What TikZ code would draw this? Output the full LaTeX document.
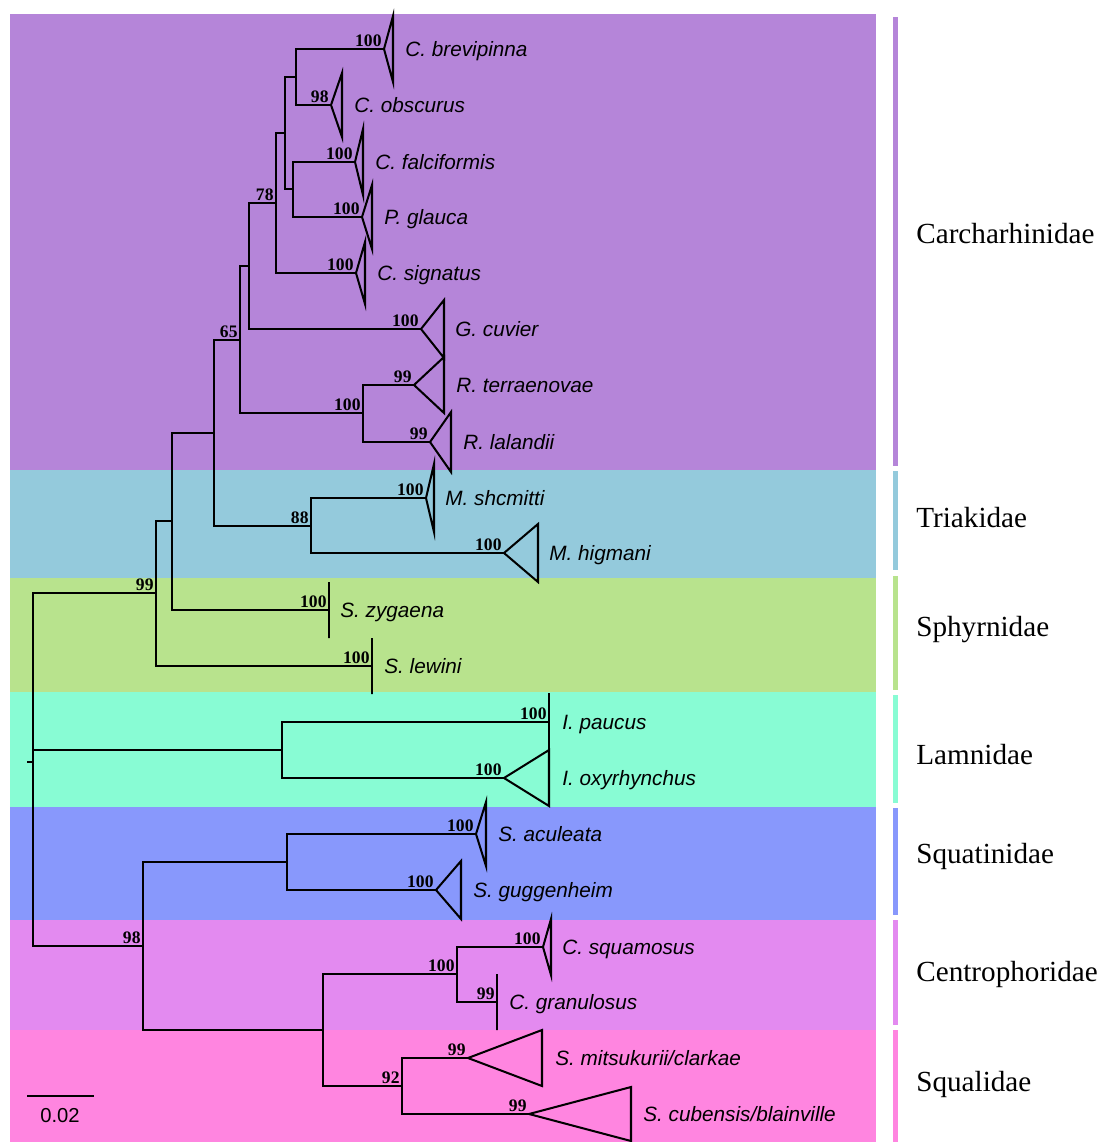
\documentclass[tikz,border=0pt]{standalone}
\usepackage{fontspec}
\setmainfont{Liberation Serif}
\setsansfont{Liberation Sans}
\usetikzlibrary{positioning}

\definecolor{carchcol}{RGB}{181,133,217}
\definecolor{triakcol}{RGB}{148,202,220}
\definecolor{sphyrcol}{RGB}{184,227,141}
\definecolor{lamncol}{RGB}{136,252,212}
\definecolor{squatcol}{RGB}{136,152,252}
\definecolor{centrocol}{RGB}{227,138,240}
\definecolor{squalcol}{RGB}{255,133,224}

\tikzset{
  branch/.style={line width=1.15pt},
  clade/.style={line width=1.15pt, line join=miter},
  taxon/.style={font=\sffamily\itshape\fontsize{11.8}{12}\selectfont, anchor=base west, yshift=-4.2pt, inner sep=0pt},
  boot/.style={font=\bfseries\fontsize{10}{10}\selectfont, anchor=south east, inner sep=1.2pt},
  family/.style={font=\fontsize{16.6}{18}\selectfont, anchor=base west, yshift=-5.5pt, inner sep=0pt},
}

\begin{document}
\begin{tikzpicture}[x=0.02cm, y=-0.02cm]
  \useasboundingbox (0,0) rectangle (1100,1142);

  % family bands
  \fill[carchcol]  (10,14)   rectangle (876,470);
  \fill[triakcol]  (10,470)  rectangle (876,578);
  \fill[sphyrcol]  (10,578)  rectangle (876,692);
  \fill[lamncol]   (10,692)  rectangle (876,807);
  \fill[squatcol]  (10,807)  rectangle (876,920);
  \fill[centrocol] (10,920)  rectangle (876,1030);
  \fill[squalcol]  (10,1030) rectangle (876,1142);

  % family bars and names
  \fill[carchcol]  (893,17)   rectangle (898,466);
  \fill[triakcol]  (893,471)  rectangle (898,570);
  \fill[sphyrcol]  (893,576)  rectangle (898,690);
  \fill[lamncol]   (893,695)  rectangle (898,803);
  \fill[squatcol]  (893,808)  rectangle (898,915);
  \fill[centrocol] (893,920)  rectangle (898,1025);
  \fill[squalcol]  (893,1030) rectangle (898,1142);
  \node[family] (carch)  at (916,234)  {Carcharhinidae};
  \node[family] (triak)  at (916,518)  {Triakidae};
  \node[family] (sphyr)  at (916,627)  {Sphyrnidae};
  \node[family] (lamn)   at (916,755)  {Lamnidae};
  \node[family] (squat)  at (916,854)  {Squatinidae};
  \node[family] (centro) at (916,972)  {Centrophoridae};
  \node[family] (squal)  at (916,1082) {Squalidae};

  % internal nodes
  \coordinate (stem)    at (27,762);
  \coordinate (root)    at (33,762);
  \coordinate (n99)     at (156,593);
  \coordinate (n172)    at (172,521);
  \coordinate (n214)    at (214,433);
  \coordinate (n65)     at (240,340);
  \coordinate (n249)    at (249,266);
  \coordinate (n78)     at (276,203);
  \coordinate (n285)    at (285,133);
  \coordinate (n296)    at (296,77);
  \coordinate (n293)    at (293,189);
  \coordinate (nRhizo)  at (363,413);
  \coordinate (n88)     at (311,526);
  \coordinate (nLamn)   at (282,750);
  \coordinate (n98)     at (143,946);
  \coordinate (nSquat)  at (287,862);
  \coordinate (nCS)     at (323,1030);
  \coordinate (nCentro) at (457,974);
  \coordinate (n92)     at (402,1086);

  % tips (apex of collapsed clades)
  \coordinate (brev) at (384,49);
  \coordinate (obsc) at (331,105);
  \coordinate (falc) at (355,162);
  \coordinate (glau) at (362,217);
  \coordinate (sign) at (356,273);
  \coordinate (cuvi) at (421,329);
  \coordinate (terr) at (414,385);
  \coordinate (lala) at (430,442);
  \coordinate (shcm) at (426,498);
  \coordinate (higm) at (504,553);
  \coordinate (zyga) at (329,610);
  \coordinate (lewi) at (372,666);
  \coordinate (pauc) at (549,722);
  \coordinate (oxyr) at (504,778);
  \coordinate (acul) at (476,834);
  \coordinate (gugg) at (436,890);
  \coordinate (squa) at (543,947);
  \coordinate (gran) at (497,1002);
  \coordinate (mits) at (468,1058);
  \coordinate (cube) at (529,1114);

  % branches
  \draw[branch] (stem) -- (root);
  \foreach \p/\c in {root/n99, root/nLamn, root/n98,
      n99/n172, n99/lewi, n172/n214, n172/zyga,
      n214/n65, n214/n88, n65/n249, n65/nRhizo,
      n249/n78, n249/cuvi, n78/n285, n78/sign,
      n285/n296, n285/n293, n296/brev, n296/obsc,
      n293/falc, n293/glau, nRhizo/terr, nRhizo/lala,
      n88/shcm, n88/higm, nLamn/pauc, nLamn/oxyr,
      n98/nSquat, n98/nCS, nSquat/acul, nSquat/gugg,
      nCS/nCentro, nCS/n92, nCentro/squa, nCentro/gran,
      n92/mits, n92/cube}
    \draw[branch] (\p) |- (\c);

  % collapsed clades and their support
  \foreach \t/\dx/\h/\bs in {brev/9/33/100, obsc/11/32/98, falc/8/33/100,
      glau/10/32/100, sign/9/31/100, cuvi/23/29/100, terr/30/28/99,
      lala/21/30/99, shcm/8/34/100, higm/34/29/100, zyga/0/28/100,
      lewi/0/28/100, pauc/0/29/100, oxyr/45/28/100, acul/10/32/100,
      gugg/25/29/100, squa/8/28/100, gran/0/28/99, mits/74/28/99,
      cube/102/27/99} {
    \draw[clade] (\t) -- ++(\dx,-\h) -- ++(0,2*\h) -- cycle;
    \node[boot] (b\t) at (\t) {\bs};
  }

  % support of internal nodes
  \node[boot] (b99)     at (n99)     {99};
  \node[boot] (b65)     at (n65)     {65};
  \node[boot] (b78)     at (n78)     {78};
  \node[boot] (bRhizo)  at (nRhizo)  {100};
  \node[boot] (b88)     at (n88)     {88};
  \node[boot] (b98)     at (n98)     {98};
  \node[boot] (bCentro) at (nCentro) {100};
  \node[boot] (b92)     at (n92)     {92};

  % taxon names
  \node[taxon] (brevL) at (405,49)   {C. brevipinna};
  \node[taxon] (obscL) at (354,105)  {C. obscurus};
  \node[taxon] (falcL) at (375,162)  {C. falciformis};
  \node[taxon] (glauL) at (384,217)  {P. glauca};
  \node[taxon] (signL) at (377,273)  {C. signatus};
  \node[taxon] (cuviL) at (455,329)  {G. cuvier};
  \node[taxon] (terrL) at (456,385)  {R. terraenovae};
  \node[taxon] (lalaL) at (463,442)  {R. lalandii};
  \node[taxon] (shcmL) at (445,498)  {M. shcmitti};
  \node[taxon] (higmL) at (549,553)  {M. higmani};
  \node[taxon] (zygaL) at (340,610)  {S. zygaena};
  \node[taxon] (lewiL) at (384,666)  {S. lewini};
  \node[taxon] (paucL) at (562,722)  {I. paucus};
  \node[taxon] (oxyrL) at (562,778)  {I. oxyrhynchus};
  \node[taxon] (aculL) at (498,834)  {S. aculeata};
  \node[taxon] (guggL) at (473,890)  {S. guggenheim};
  \node[taxon] (squaL) at (562,947)  {C. squamosus};
  \node[taxon] (granL) at (509,1002) {C. granulosus};
  \node[taxon] (mitsL) at (555,1058) {S. mitsukurii/clarkae};
  \node[taxon] (cubeL) at (643,1114) {S. cubensis/blainville};

  % scale bar
  \coordinate (sbA) at (27,1096);
  \coordinate (sbB) at (94,1096);
  \draw[branch] (sbA) -- (sbB);
  \node[font=\sffamily\fontsize{11.5}{12}\selectfont, inner sep=0pt] (sbL) at (60,1116) {0.02};
\end{tikzpicture}
\end{document}
